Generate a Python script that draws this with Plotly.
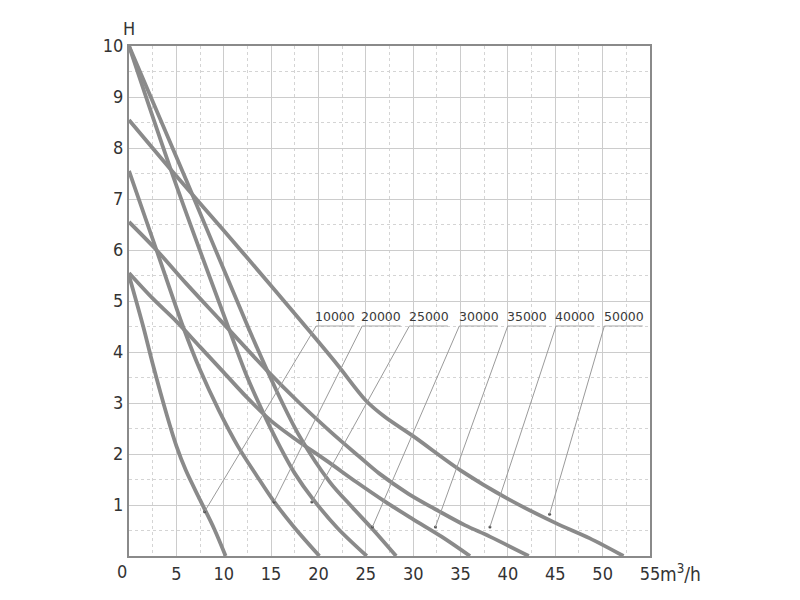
import plotly.graph_objects as go

# ---------------- data ----------------
series_names = ["10000", "20000", "25000", "30000", "35000", "40000", "50000"]

q_10000 = [0, 1.5, 2.5, 4.0, 5.0, 6.0, 7.5, 9.0, 10.2]
h_10000 = [5.5, 4.5, 3.77, 2.76, 2.16, 1.68, 1.1, 0.53, 0]

q_20000 = [0, 2.9, 5.7, 7.5, 9.5, 11.5, 13.5, 15.3, 17.5, 20.1]
h_20000 = [7.55, 6.0, 4.5, 3.65, 2.85, 2.15, 1.57, 1.07, 0.55, 0]

q_25000 = [0, 4.8, 10.6, 12.5, 14.5, 16.0, 17.5, 19.4, 22.0, 25.1]
h_25000 = [10, 7.37, 4.43, 3.5, 2.68, 2.12, 1.62, 1.12, 0.55, 0]

q_30000 = [0, 6.05, 12.7, 15.5, 18.0, 21.2, 23.5, 25.7, 28.2]
h_30000 = [10, 7.37, 4.43, 3.27, 2.35, 1.45, 0.97, 0.53, 0]

q_35000 = [0, 2.5, 5, 7.5, 10, 12.5, 15, 17.5, 21, 24, 27, 30, 33, 36]
h_35000 = [5.55, 5.05, 4.6, 4.1, 3.6, 3.1, 2.65, 2.3, 1.85, 1.45, 1.07, 0.72, 0.38, 0]

q_40000 = [0, 2.9, 6.0, 9.6, 14.5, 18.0, 21.2, 24.3, 26.4, 29.5, 32.8, 35.5, 38.1, 42.2]
h_40000 = [6.55, 6.0, 5.35, 4.63, 3.65, 3.0, 2.45, 1.95, 1.62, 1.22, 0.87, 0.6, 0.38, 0]

q_50000 = [0, 5, 10, 15, 19, 22, 25, 27, 30, 35, 40, 45, 48.6, 52.2]
h_50000 = [8.55, 7.45, 6.38, 5.3, 4.42, 3.75, 3.05, 2.73, 2.35, 1.68, 1.12, 0.65, 0.35, 0]

# points on each curve that the labels point at
pointer_q = [7.98, 15.3, 19.3, 25.7, 32.35, 38.1, 44.4]
pointer_h = [0.87, 1.06, 1.06, 0.57, 0.57, 0.57, 0.82]

# label anchors (left end of underline), data units
label_q = [19.77, 24.62, 29.6, 34.87, 39.98, 45.08, 50.18]
label_h = 4.51
label_width_q = 4.05

x_ticks = [5, 10, 15, 20, 25, 30, 35, 40, 45, 50, 55]
y_ticks = [1, 2, 3, 4, 5, 6, 7, 8, 9, 10]
origin_label = "0"

curves_q = [q_10000, q_20000, q_25000, q_30000, q_35000, q_40000, q_50000]
curves_h = [h_10000, h_20000, h_25000, h_30000, h_35000, h_40000, h_50000]

# ---------------- figure ----------------
TICK_FONT = "DejaVu Sans Condensed, Liberation Sans Narrow, sans-serif"
CURVE_COLOR = "#8a8a8a"

fig = go.Figure()

for name, q, h in zip(series_names, curves_q, curves_h):
    fig.add_trace(go.Scatter(
        x=q, y=h, mode="lines", name=name,
        line=dict(color=CURVE_COLOR, width=3.8, shape="spline", smoothing=0.9),
        showlegend=False, hoverinfo="skip",
    ))

shapes = []
annotations = []
for name, lq, pq, ph in zip(series_names, label_q, pointer_q, pointer_h):
    shapes.append(dict(type="line", xref="x", yref="y",
                       x0=lq, x1=lq + label_width_q, y0=label_h, y1=label_h,
                       line=dict(color="#a8a8a8", width=1)))
    shapes.append(dict(type="line", xref="x", yref="y",
                       x0=lq, y0=label_h, x1=pq, y1=ph,
                       line=dict(color="#9a9a9a", width=1)))
    annotations.append(dict(x=lq + label_width_q / 2, y=label_h, xref="x", yref="y",
                            text=name, showarrow=False, xanchor="center", yanchor="bottom",
                            font=dict(family="DejaVu Sans, sans-serif", size=12.5, color="#3a3a3a")))

fig.add_trace(go.Scatter(x=pointer_q, y=pointer_h, mode="markers",
                         marker=dict(color="#555", size=3),
                         showlegend=False, hoverinfo="skip"))

annotations.append(dict(x=0, y=10, xref="x", yref="y", text="H", showarrow=False,
                        xanchor="center", yanchor="bottom", yshift=5,
                        font=dict(family=TICK_FONT, size=18, color="#333")))
annotations.append(dict(x=55, y=0, xref="x", yref="y", text="m<sup>3</sup>/h", showarrow=False,
                        xanchor="left", yanchor="top", xshift=8, yshift=-3,
                        font=dict(family=TICK_FONT, size=19, color="#333")))
annotations.append(dict(x=0, y=0, xref="x", yref="y", text=origin_label, showarrow=False,
                        xanchor="center", yanchor="top", xshift=-7, yshift=-3,
                        font=dict(family=TICK_FONT, size=18, color="#333")))

# page body has an 8px margin, so shift plot margins accordingly
fig.update_layout(
    width=800, height=600,
    margin=dict(l=121, r=158, t=38, b=52),
    paper_bgcolor="white", plot_bgcolor="white",
    shapes=shapes, annotations=annotations,
)

fig.update_xaxes(
    range=[0, 55], tickvals=x_ticks, ticktext=[str(v) for v in x_ticks],
    showgrid=True, gridcolor="#cccccc", gridwidth=1,
    minor=dict(dtick=2.5, showgrid=True, gridcolor="#d4d4d4", griddash="dot", gridwidth=1),
    showline=True, linecolor="#8a8a8a", linewidth=2, mirror=True,
    zeroline=False, ticks="", ticklen=0,
    tickfont=dict(family=TICK_FONT, size=18, color="#333"),
)
fig.update_yaxes(
    range=[0, 10], tickvals=y_ticks, ticktext=[str(v) for v in y_ticks],
    showgrid=True, gridcolor="#cccccc", gridwidth=1,
    minor=dict(dtick=0.5, showgrid=True, gridcolor="#d4d4d4", griddash="dot", gridwidth=1),
    showline=True, linecolor="#8a8a8a", linewidth=2, mirror=True,
    zeroline=False, ticks="", ticklen=0,
    tickfont=dict(family=TICK_FONT, size=18, color="#333"),
)

fig.write_html("out.html")
